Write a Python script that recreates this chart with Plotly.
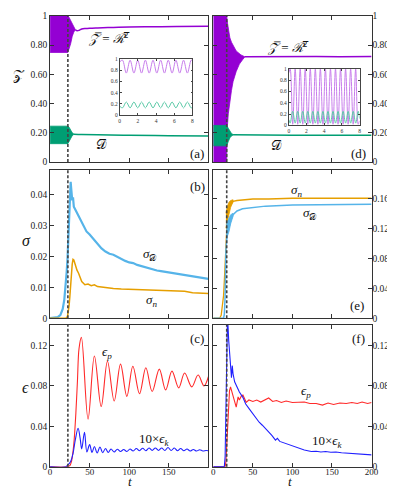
import plotly.graph_objects as go

SERIF = "Liberation Serif, DejaVu Serif, serif"
PURPLE = "#9400D3"
GREEN = "#009E73"
SKY = "#56B4E9"
ORANGE = "#E69F00"
RED = "#FF2A2A"
BLUE = "#2020FF"

# ---------------- data ----------------
T_TICKS = [0, 50, 100, 150, 200]
onset_left = 22.5
onset_right = 17

# (a) envelope of the fast oscillation, then the mean
a_Z_band_t = [0, 22.5, 24, 26, 28, 30, 32]
a_Z_band_hi = [1.0, 1.0, 0.99, 0.97, 0.94, 0.92, 0.91]
a_Z_band_lo = [0.75, 0.75, 0.77, 0.81, 0.86, 0.89, 0.905]
a_Z_t = [32, 34, 37, 40, 45, 50, 60, 80, 100, 130, 160, 200]
a_Z = [0.905, 0.898, 0.902, 0.91, 0.914, 0.916, 0.918, 0.921, 0.924, 0.926, 0.928, 0.93]
a_D_band_t = [0, 22.5, 24, 26, 28, 30]
a_D_band_hi = [0.245, 0.245, 0.238, 0.218, 0.2, 0.192]
a_D_band_lo = [0.125, 0.125, 0.14, 0.162, 0.18, 0.188]
a_D_t = [30, 40, 60, 100, 150, 200]
a_D = [0.19, 0.188, 0.186, 0.182, 0.18, 0.178]

# (d)
d_Z_hi_t = [0, 17, 18, 19, 21, 23, 25, 29, 35, 40]
d_Z_hi = [1.0, 1.0, 0.95, 0.91, 0.85, 0.82, 0.80, 0.76, 0.733, 0.722]
d_Z_lo_t = [0, 17, 17.5, 19, 21, 23, 25, 29, 33, 37, 40]
d_Z_lo = [0.0, 0.0, 0.22, 0.33, 0.42, 0.49, 0.55, 0.62, 0.67, 0.70, 0.72]
d_Z_t = [40, 60, 80, 100, 130, 160, 200]
d_Z = [0.721, 0.722, 0.721, 0.722, 0.722, 0.721, 0.722]
d_D_band_t = [0, 17, 19, 21, 23, 25]
d_D_band_hi = [0.25, 0.25, 0.23, 0.21, 0.195, 0.188]
d_D_band_lo = [0.11, 0.11, 0.14, 0.165, 0.178, 0.184]
d_D_t = [25, 50, 100, 150, 200]
d_D = [0.186, 0.184, 0.183, 0.183, 0.182]

# insets
insA_t = [0, 0.30, 0.72, 1.14, 1.56, 1.98, 2.40, 2.82, 3.24, 3.66, 4.08,
          4.50, 4.92, 5.34, 5.76, 6.18, 6.60, 7.02, 7.44, 7.86, 8.0]
insA_Z = [0.95, 0.98, 0.75, 0.98, 0.75, 0.98, 0.75, 0.98, 0.75, 0.98, 0.75,
          0.98, 0.75, 0.98, 0.75, 0.98, 0.75, 0.98, 0.75, 0.98, 0.97]
insA_D = [0.16, 0.13, 0.235, 0.13, 0.235, 0.13, 0.235, 0.13, 0.235, 0.13, 0.235,
          0.13, 0.235, 0.13, 0.235, 0.13, 0.235, 0.13, 0.235, 0.13, 0.14]
insD_t = [0, 0.15, 0.44, 0.72, 1.01, 1.29, 1.58, 1.86, 2.15, 2.43, 2.72, 3.00,
          3.29, 3.57, 3.86, 4.14, 4.43, 4.71, 5.00, 5.28, 5.57, 5.85, 6.14,
          6.42, 6.71, 6.99, 7.28, 7.56, 7.85, 8.0]
insD_Z = [0.93, 1.0, 0.02, 1.0, 0.02, 1.0, 0.02, 1.0, 0.02, 1.0, 0.02, 1.0,
          0.02, 1.0, 0.02, 1.0, 0.02, 1.0, 0.02, 1.0, 0.02, 1.0, 0.02,
          1.0, 0.02, 1.0, 0.02, 1.0, 0.02, 0.08]
insD_D = [0.1, 0.04, 0.25, 0.04, 0.25, 0.04, 0.25, 0.04, 0.25, 0.04, 0.25, 0.04,
          0.25, 0.04, 0.25, 0.04, 0.25, 0.04, 0.25, 0.04, 0.25, 0.04, 0.25,
          0.04, 0.25, 0.04, 0.25, 0.04, 0.25, 0.12]

# (b)
b_sD_t = [0, 5, 10, 13, 16, 18, 20, 21, 22, 23, 24, 25, 26, 27, 28, 29, 30, 32, 35, 38,
          42, 46, 50, 55, 60, 65, 70, 75, 80, 85, 90, 95, 100, 105, 110, 115, 120, 125,
          130, 135, 140, 145, 150, 155, 160, 165, 170, 175, 180, 185, 190, 195, 200]
b_sD = [0, 0.0001, 0.0004, 0.001, 0.003, 0.006, 0.011, 0.015, 0.019, 0.025, 0.032,
        0.039, 0.044, 0.041, 0.038, 0.039, 0.036, 0.035, 0.0335, 0.032, 0.030, 0.028,
        0.027, 0.0255, 0.024, 0.0225, 0.0215, 0.0208, 0.0205, 0.0198, 0.019, 0.0185,
        0.018, 0.0178, 0.0172, 0.0168, 0.0165, 0.016, 0.0157, 0.0154, 0.0152, 0.015,
        0.0148, 0.0145, 0.0143, 0.0142, 0.014, 0.0137, 0.0135, 0.0133, 0.013, 0.0128, 0.0127]
b_sn_t = [0, 20, 22, 23, 24, 25, 26, 27, 28, 29, 30, 31, 32, 34, 36, 38, 40, 44, 48,
          52, 56, 60, 65, 70, 80, 90, 100, 110, 120, 130, 140, 150, 160, 170, 180, 190, 200]
b_sn = [0, 0, 0.0005, 0.002, 0.004, 0.007, 0.011, 0.015, 0.0175, 0.019, 0.0188, 0.018,
        0.017, 0.0155, 0.0145, 0.013, 0.0118, 0.0108, 0.011, 0.0105, 0.0108, 0.0102,
        0.0100, 0.0098, 0.0096, 0.0094, 0.0093, 0.0092, 0.0093, 0.0091, 0.009, 0.0088,
        0.0089, 0.0087, 0.0082, 0.0081, 0.008]

# (e)
e_sn_t = [0, 8, 10, 12, 13, 14, 15, 16, 17, 18, 19, 20, 22, 25, 30, 37, 50, 70, 100, 150, 200]
e_sn = [0, 0, 0.004, 0.018, 0.03, 0.05, 0.078, 0.11, 0.13, 0.14, 0.145, 0.149, 0.152,
        0.156, 0.157, 0.158, 0.159, 0.159, 0.16, 0.16, 0.16]
e_sn_band_t = [16, 18, 20, 22, 25]
e_sn_band_hi = [0.14, 0.15, 0.155, 0.157, 0.158]
e_sn_band_lo = [0.12, 0.13, 0.14, 0.148, 0.155]
e_sD_t = [0, 13, 14, 15, 16, 17, 18, 20, 22, 25, 30, 37, 50, 66, 100, 150, 200]
e_sD = [0, 0, 0.005, 0.03, 0.09, 0.115, 0.118, 0.122, 0.13, 0.138, 0.143, 0.146,
        0.148, 0.1495, 0.151, 0.152, 0.152]
e_sD_band_t = [16.5, 18, 20, 22, 25]
e_sD_band_hi = [0.125, 0.13, 0.134, 0.138, 0.14]
e_sD_band_lo = [0.105, 0.11, 0.116, 0.126, 0.136]

# (c)
c_ep_t = [0, 22, 25, 27, 29, 30.5, 32.6, 34.6, 36.6, 39.6, 48, 56, 64.6, 72.5, 81, 89,
          97, 104.6, 113, 121, 129, 138, 146, 154, 162.5, 170, 179, 187, 194.5, 200]
c_ep = [0, 0, 0.001, 0.005, 0.015, 0.027, 0.053, 0.085, 0.117, 0.128, 0.047, 0.1096,
        0.0595, 0.1044, 0.065, 0.1015, 0.0696, 0.0995, 0.0722, 0.0979, 0.0744, 0.0966,
        0.076, 0.0946, 0.078, 0.0927, 0.079, 0.0907, 0.080, 0.089]
c_ek_t = [0, 20, 23, 26, 29, 32, 35.4, 38, 40, 43.5, 46.5, 50, 53, 56, 59.5, 63, 66.5,
          70, 73.5, 77, 81, 85, 89, 93, 97, 101, 105, 109, 113, 117, 121, 125, 129, 133,
          137, 141, 145, 149, 153, 157, 161, 165, 169, 173, 177, 181, 185, 189, 193, 197, 200]
c_ek = [0, 0, 0.002, 0.005, 0.013, 0.027, 0.038, 0.028, 0.0176, 0.034, 0.0146, 0.0218,
        0.014, 0.02, 0.0135, 0.0195, 0.0138, 0.018, 0.014, 0.0175, 0.0145, 0.0172, 0.015,
        0.017, 0.015, 0.0175, 0.0155, 0.018, 0.0158, 0.0182, 0.0158, 0.0185, 0.016,
        0.0185, 0.016, 0.0185, 0.016, 0.019, 0.016, 0.0185, 0.0158, 0.018, 0.0158,
        0.0175, 0.0155, 0.017, 0.0155, 0.0168, 0.0155, 0.016, 0.0158]

# (f)
f_ep_t = [0, 15, 16, 17, 18, 19, 20.5, 21.8, 23.5, 26, 29, 31.4, 33, 35.5, 37.5, 41.6,
          45, 50, 55, 60, 65, 70, 75, 80, 86, 92, 100, 107, 115, 122, 130, 138, 145,
          152, 160, 168, 175, 182, 188, 195, 200]
f_ep = [0, 0, 0.005, 0.02, 0.04, 0.06, 0.075, 0.079, 0.0745, 0.068, 0.059, 0.069,
        0.066, 0.07, 0.071, 0.0637, 0.066, 0.0645, 0.066, 0.064, 0.066, 0.068, 0.0645,
        0.0655, 0.0635, 0.065, 0.0635, 0.0635, 0.064, 0.0625, 0.0625, 0.061, 0.063,
        0.0615, 0.063, 0.0625, 0.0635, 0.0625, 0.064, 0.0625, 0.0635]
f_ek_t = [0, 14, 15, 16, 17, 18, 19.5, 21, 22, 23, 24, 25, 27, 29.2, 33, 37.4, 41, 45.7,
          50, 53.9, 58, 62, 66.3, 70, 74, 78.6, 81, 84, 91, 99, 107, 115, 123.8, 130,
          136, 142, 148.5, 155, 162, 169, 176, 183, 190, 200]
f_ek = [0, 0, 0.01, 0.06, 0.12, 0.15, 0.125, 0.106, 0.095, 0.088, 0.1, 0.092, 0.084,
        0.08, 0.074, 0.0686, 0.062, 0.057, 0.052, 0.0475, 0.044, 0.041, 0.0377, 0.034,
        0.031, 0.0263, 0.028, 0.025, 0.023, 0.021, 0.018, 0.0165, 0.015, 0.0152, 0.0145,
        0.015, 0.0143, 0.0145, 0.0138, 0.0133, 0.0132, 0.0128, 0.0122, 0.0117]

# ---------------- figure ----------------
fig = go.Figure()


def band(t_hi, hi, t_lo, lo, color, xa, ya):
    fig.add_trace(go.Scatter(x=list(t_hi) + list(t_lo)[::-1], y=list(hi) + list(lo)[::-1],
                             fill="toself", fillcolor=color, mode="lines",
                             line=dict(color=color, width=0.8), xaxis=xa, yaxis=ya,
                             hoverinfo="skip"))


def line(t, v, color, xa, ya, width=1.2, shape="linear"):
    fig.add_trace(go.Scatter(x=t, y=v, mode="lines", line=dict(color=color, width=width, shape=shape),
                             xaxis=xa, yaxis=ya))


# (a)
band(a_Z_band_t, a_Z_band_hi, a_Z_band_t, a_Z_band_lo, PURPLE, "x", "y")
line(a_Z_t, a_Z, PURPLE, "x", "y", 1.5, "spline")
band(a_D_band_t, a_D_band_hi, a_D_band_t, a_D_band_lo, GREEN, "x", "y")
line(a_D_t, a_D, GREEN, "x", "y", 1.5, "spline")
# (d)
band(d_Z_hi_t, d_Z_hi, d_Z_lo_t, d_Z_lo, PURPLE, "x4", "y4")
line(d_Z_t, d_Z, PURPLE, "x4", "y4", 1.5)
band(d_D_band_t, d_D_band_hi, d_D_band_t, d_D_band_lo, GREEN, "x4", "y4")
line(d_D_t, d_D, GREEN, "x4", "y4", 1.5)
# insets
line(insA_t, insA_Z, "#C77DEB", "x7", "y7", 1.0, "spline")
line(insA_t, insA_D, "#5CC9A7", "x7", "y7", 1.0, "spline")
line(insD_t, insD_Z, "#C77DEB", "x8", "y8", 1.0, "spline")
line(insD_t, insD_D, "#5CC9A7", "x8", "y8", 1.0, "spline")
# (b)
line(b_sD_t, b_sD, SKY, "x2", "y2", 2.2)
line(b_sn_t, b_sn, ORANGE, "x2", "y2", 1.5)
# (e)
band(e_sn_band_t, e_sn_band_hi, e_sn_band_t, e_sn_band_lo, ORANGE, "x5", "y5")
line(e_sn_t, e_sn, ORANGE, "x5", "y5", 1.3)
band(e_sD_band_t, e_sD_band_hi, e_sD_band_t, e_sD_band_lo, SKY, "x5", "y5")
line(e_sD_t, e_sD, SKY, "x5", "y5", 1.5)
# (c)
line(c_ep_t, c_ep, RED, "x3", "y3", 1.1, "spline")
line(c_ek_t, c_ek, BLUE, "x3", "y3", 1.1, "spline")
# (f)
line(f_ep_t, f_ep, RED, "x6", "y6", 1.1)
line(f_ek_t, f_ek, BLUE, "x6", "y6", 1.1)

# ---------------- axes ----------------
W, H = 395, 495
LX = [41 / W, 203 / W]
RX = [208 / W, 370 / W]
YA = [1 - 152 / H, 1 - 3 / H]
YB = [1 - 311.5 / H, 1 - 160 / H]
YC = [1 - 463 / H, 1 - 318 / H]

base = dict(showline=True, linecolor="#333", linewidth=1, mirror="ticks", ticks="inside",
            ticklen=4, tickcolor="#333", showgrid=False, zeroline=False,
            tickfont=dict(family=SERIF, size=9.5, color="#222"))


def xax(dom, anchor, labels):
    d = dict(base, domain=dom, anchor=anchor, range=[0, 200], tickvals=T_TICKS,
             ticklabelstandoff=-3)
    d["tickfont"] = dict(family=SERIF, size=9, color="#222")
    if labels is None:
        d["showticklabels"] = False
    else:
        d["ticktext"] = labels
    return d


def yax(dom, anchor, rng, vals, text, side="left"):
    return dict(base, domain=dom, anchor=anchor, range=rng, tickvals=vals, ticktext=text,
                side=side, ticklabelstandoff=-2 if side == "right" else 0)


tick_a = [0, 0.2, 0.4, 0.6, 0.8, 1]
tick_a_txt = ["0", "0.20", "0.40", "0.60", "0.80", "1"]
tick_b = [0, 0.01, 0.02, 0.03, 0.04]
tick_b_txt = ["0", "0.01", "0.02", "0.03", "0.04"]
tick_c = [0, 0.04, 0.08, 0.12]
tick_c_txt = ["0", "0.04", "0.08", "0.12"]
tick_e = [0, 0.04, 0.08, 0.12, 0.16]
tick_e_txt = ["0", "0.04", "0.08", "0.12", "0.16"]

inset = dict(showline=True, linecolor="#444", linewidth=0.8, mirror="ticks", ticks="inside",
             ticklen=2, tickcolor="#444", showgrid=False, zeroline=False,
             tickfont=dict(family=SERIF, size=5.5, color="#333"))

fig.update_layout(
    xaxis=xax(LX, "y", None), yaxis=yax(YA, "x", [0, 1], tick_a, tick_a_txt),
    xaxis2=xax(LX, "y2", None), yaxis2=yax(YB, "x2", [0, 0.0479], tick_b, tick_b_txt),
    xaxis3=xax(LX, "y3", ["0", "50", "100", "150", ""]),
    yaxis3=yax(YC, "x3", [0, 0.1407], tick_c, tick_c_txt),
    xaxis4=xax(RX, "y4", None), yaxis4=yax(YA, "x4", [0, 1], tick_a, tick_a_txt, "right"),
    xaxis5=xax(RX, "y5", None), yaxis5=yax(YB, "x5", [0, 0.198], tick_e, tick_e_txt, "right"),
    xaxis6=xax(RX, "y6", ["0", "50", "100", "150", "200"]),
    yaxis6=yax(YC, "x6", [0, 0.1407], tick_c, tick_c_txt, "right"),
    xaxis7=dict(inset, domain=[112.3 / W, 186.7 / W], anchor="y7", range=[0, 8],
                tickvals=[0, 2, 4, 6, 8]),
    yaxis7=dict(inset, domain=[1 - 104.3 / H, 1 - 47 / H], anchor="x7", range=[0, 1],
                tickvals=[0, 0.2, 0.4, 0.6, 0.8, 1], ticktext=["0", "0.2", "0.4", "0.6", "0.8", "1"]),
    xaxis8=dict(inset, domain=[285.3 / W, 357.7 / W], anchor="y8", range=[0, 8],
                tickvals=[0, 2, 4, 6, 8]),
    yaxis8=dict(inset, domain=[1 - 114.7 / H, 1 - 57 / H], anchor="x8", range=[0, 1],
                tickvals=[0, 0.2, 0.4, 0.6, 0.8, 1], ticktext=["0", "0.2", "0.4", "0.6", "0.8", "1"]),
    width=W, height=H, margin=dict(l=0, r=0, t=0, b=0),
    paper_bgcolor="white", plot_bgcolor="white", showlegend=False,
    font=dict(family=SERIF, color="#111"),
)

# dashed onset lines
for xa, ya, t0 in [("x", "y", onset_left), ("x2", "y2", onset_left), ("x3", "y3", onset_left),
                   ("x4", "y4", onset_right), ("x5", "y5", onset_right), ("x6", "y6", onset_right)]:
    fig.add_shape(type="line", xref=xa, yref=ya + " domain", x0=t0, x1=t0, y0=0, y1=1,
                  line=dict(color="#444", width=1.6, dash="3px,2px"), layer="above")

# text labels
def note(text, x, y, xa, ya, size=13, **kw):
    fig.add_annotation(text=text, x=x, y=y, xref=xa, yref=ya, showarrow=False,
                       font=dict(family=SERIF, size=size, color="#111"), **kw)


ZR = "<i>𝒵̅</i> = <i>ℛ̅</i><sup>2</sup>"
note(ZR, 74, 0.85, "x", "y")
note("𝒟̅", 65, 0.12, "x", "y")
note("(a)", 186, 0.06, "x", "y")
note(ZR, 95, 0.79, "x4", "y4")
note("𝒟̅", 80, 0.11, "x4", "y4")
note("(d)", 184, 0.06, "x4", "y4")
note("(b)", 186, 0.0425, "x2", "y2")
note("<i>σ</i><sub>𝒟</sub>", 126, 0.0206, "x2", "y2")
note("<i>σ</i><sub><i>n</i></sub>", 128, 0.0057, "x2", "y2")
note("(e)", 182, 0.017, "x5", "y5")
note("<i>σ</i><sub><i>n</i></sub>", 105, 0.170, "x5", "y5")
note("<i>σ</i><sub>𝒟</sub>", 122, 0.139, "x5", "y5")
note("(c)", 186, 0.127, "x3", "y3")
note("<i>ϵ</i><sub><i>p</i></sub>", 72, 0.113, "x3", "y3")
note("10×<i>ϵ</i><sub><i>k</i></sub>", 132, 0.027, "x3", "y3")
note("(f)", 184, 0.127, "x6", "y6")
note("<i>ϵ</i><sub><i>p</i></sub>", 117, 0.074, "x6", "y6")
note("10×<i>ϵ</i><sub><i>k</i></sub>", 144, 0.025, "x6", "y6")

# axis titles
note("𝒵", 2 / W, 1 - 55 / H, "paper", "paper", 14, xanchor="left", borderpad=0)
note("<i>σ</i>", 10 / W, 1 - 232 / H, "paper", "paper", 16)
note("<i>ϵ</i>", 10 / W, 1 - 393 / H, "paper", "paper", 16)
note("<i>t</i>", 120 / W, 1 - 486.5 / H, "paper", "paper", 13, borderpad=0)
note("<i>t</i>", 290 / W, 1 - 486.5 / H, "paper", "paper", 13, borderpad=0)

fig.write_html("out.html")
